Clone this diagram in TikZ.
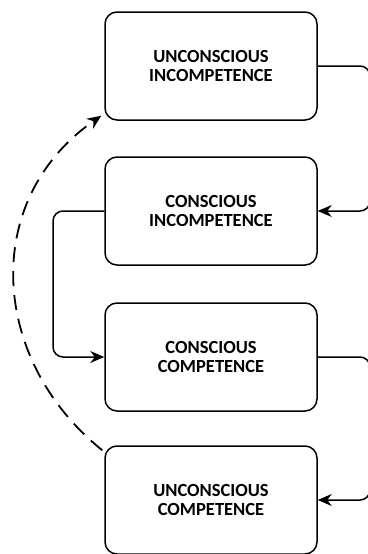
\documentclass[tikz,border=0pt]{standalone}
\usepackage{fontspec}
\setmainfont{Carlito}
\usetikzlibrary{arrows.meta}
\begin{document}
\begin{tikzpicture}[x=1pt,y=-1pt,
  stage/.style={draw, line width=1.5pt, rounded corners=12pt, minimum width=212pt, minimum height=108pt, align=center, font=\fontsize{18.5}{19.5}\selectfont\bfseries, inner sep=0pt},
  conn/.style={line width=1.5pt, rounded corners=10pt, -{Stealth[length=14pt,width=12pt]}},
  back/.style={line width=1.8pt, dash pattern=on 15pt off 9pt, -{Stealth[length=14pt,width=12pt]}}]
\useasboundingbox (0,0) rectangle (367,554);
\node[stage] (ui) at (211,66) {UNCONSCIOUS\\INCOMPETENCE};
\node[stage] (ci) at (211,211) {CONSCIOUS\\INCOMPETENCE};
\node[stage] (cc) at (211,357) {CONSCIOUS\\COMPETENCE};
\node[stage] (uc) at (211,500) {UNCONSCIOUS\\COMPETENCE};
\coordinate (r1) at (370,66);
\coordinate (r2) at (370,211);
\coordinate (l1) at (53,211);
\coordinate (l2) at (53,357);
\coordinate (r3) at (370,357);
\coordinate (r4) at (370,500);
\draw[conn] (ui.east) -- (r1) -- (r2) -- (ci.east);
\draw[conn] (ci.west) -- (l1) -- (l2) -- (cc.west);
\draw[conn] (cc.east) -- (r3) -- (r4) -- (uc.east);
\draw[back] (uc.north west) ++(-2,5) .. controls (-10,360) and (-20,200) .. ([shift={(-3,-5)}]ui.south west);
\end{tikzpicture}
\end{document}
